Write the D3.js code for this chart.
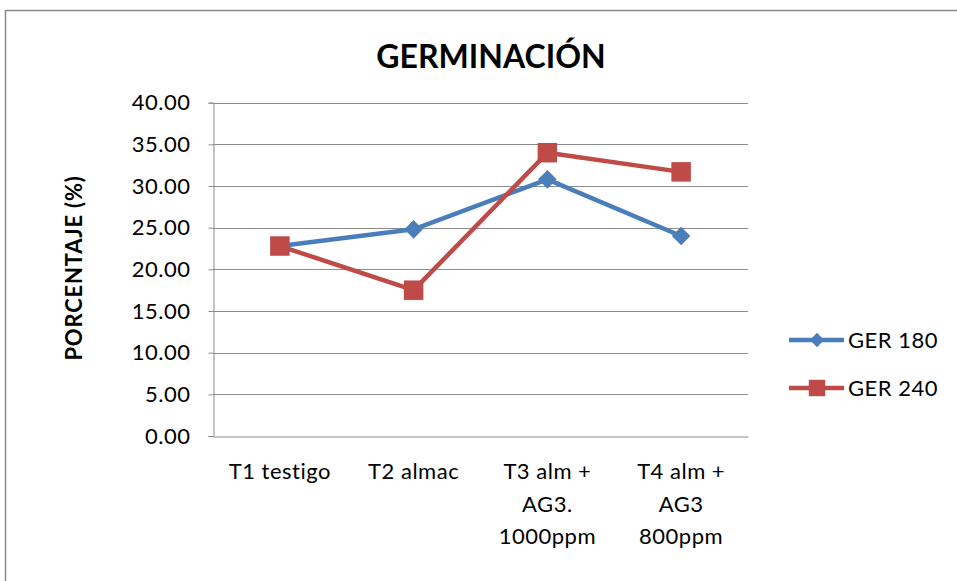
<!DOCTYPE html>
<html><head><meta charset="utf-8">
<script src="https://cdn.jsdelivr.net/npm/d3@7"></script>
<style>body{margin:0;background:#fff}svg{display:block}text{font-family:Lato,"Open Sans",sans-serif;fill:#000}</style>
</head><body>
<svg id="c" width="957" height="581"></svg>
<script>
const categories = [["T1 testigo"],["T2 almac"],["T3 alm +","AG3.","1000ppm"],["T4 alm +","AG3","800ppm"]];
const ger180 = [22.8, 24.8, 30.8, 24.0];
const ger240 = [22.8, 17.5, 34.0, 31.7];
const seriesNames = ["GER 180","GER 240"];
const yTicks = [0,5,10,15,20,25,30,35,40];
const title = "GERMINACIÓN";
const yTitle = "PORCENTAJE (%)";

const svg = d3.select("#c");
const blue = "#4A7EBB", red = "#BE4B48";
svg.append("rect").attr("x",5.5).attr("y",10.5).attr("width",1200).attr("height",1200)
  .attr("fill","#fff").attr("stroke","#888").attr("stroke-width",1.5);

const pLeft=213, pRight=748, pTop=102.7, pBottom=436;
const x = d3.scaleBand().domain(categories.map((c,i)=>i)).range([pLeft,pRight]);
const y = d3.scaleLinear().domain([0,40]).range([pBottom,pTop]);
const cx = i => x(i)+x.bandwidth()/2;

// gridlines
svg.append("g").selectAll("line").data(yTicks.filter(t=>t>0)).join("line")
  .attr("x1",pLeft).attr("x2",pRight).attr("y1",d=>Math.round(y(d))+0.5).attr("y2",d=>Math.round(y(d))+0.5)
  .attr("stroke","#8c8c8c").attr("stroke-width",1);

// y axis
const ya = svg.append("g").attr("transform",`translate(${pLeft+0.5},0)`)
  .call(d3.axisLeft(y).tickValues(yTicks).tickFormat(d3.format(".2f")).tickSize(5).tickPadding(18));
ya.select(".domain").attr("stroke","#8c8c8c");
ya.selectAll(".tick line").attr("stroke","#8c8c8c");
ya.selectAll(".tick text").attr("font-size",22).attr("letter-spacing","0.5px").attr("font-family","Lato").attr("fill","#000");

// x axis
const xa = svg.append("g").attr("transform",`translate(0,${pBottom+0.5})`)
  .call(d3.axisBottom(x).tickSize(0).tickFormat(""));
xa.select(".domain").attr("stroke","#8c8c8c");
categories.forEach((lines,i)=>{
  const t = svg.append("text").attr("text-anchor","middle").attr("font-size",22).attr("letter-spacing","0.5px");
  lines.forEach((l,j)=>t.append("tspan").attr("x",cx(i)).attr("y",479+j*32.5).text(l));
});

// lines
const line = d3.line().x((d,i)=>cx(i)).y(d=>y(d));
svg.append("path").datum(ger180).attr("d",line).attr("fill","none").attr("stroke",blue).attr("stroke-width",4.5).attr("stroke-linejoin","round");
svg.append("path").datum(ger240).attr("d",line).attr("fill","none").attr("stroke",red).attr("stroke-width",4.5).attr("stroke-linejoin","round");
const diamond = d3.symbol().type(d3.symbolDiamond2).size(220);
const square = d3.symbol().type(d3.symbolSquare).size(380);
svg.append("g").selectAll("path").data(ger180).join("path")
  .attr("d",diamond).attr("transform",(d,i)=>`translate(${cx(i)},${y(d)})`).attr("fill",blue);
svg.append("g").selectAll("path").data(ger240).join("path")
  .attr("d",square).attr("transform",(d,i)=>`translate(${cx(i)},${y(d)})`).attr("fill",red);

// legend
const lg = [{n:seriesNames[0],c:blue,t:"d",y:340},{n:seriesNames[1],c:red,t:"s",y:388}];
lg.forEach(l=>{
  svg.append("line").attr("x1",789).attr("x2",844).attr("y1",l.y).attr("y2",l.y).attr("stroke",l.c).attr("stroke-width",4.5);
  svg.append("path").attr("d",l.t==="d"?d3.symbol().type(d3.symbolDiamond2).size(130)():d3.symbol().type(d3.symbolSquare).size(270)())
    .attr("transform",`translate(817,${l.y})`).attr("fill",l.c);
  svg.append("text").attr("x",848).attr("y",l.y+8).attr("font-size",22).attr("letter-spacing","0.5px").text(l.n);
});

// titles
svg.append("text").attr("x",491).attr("y",68).attr("text-anchor","middle").attr("font-size",32).attr("font-weight","bold").text(title);
svg.append("text").attr("transform",`translate(82,268) rotate(-90)`).attr("text-anchor","middle").attr("font-size",22).attr("letter-spacing","0.8px").attr("font-weight","bold").text(yTitle);
</script>
</body></html>
